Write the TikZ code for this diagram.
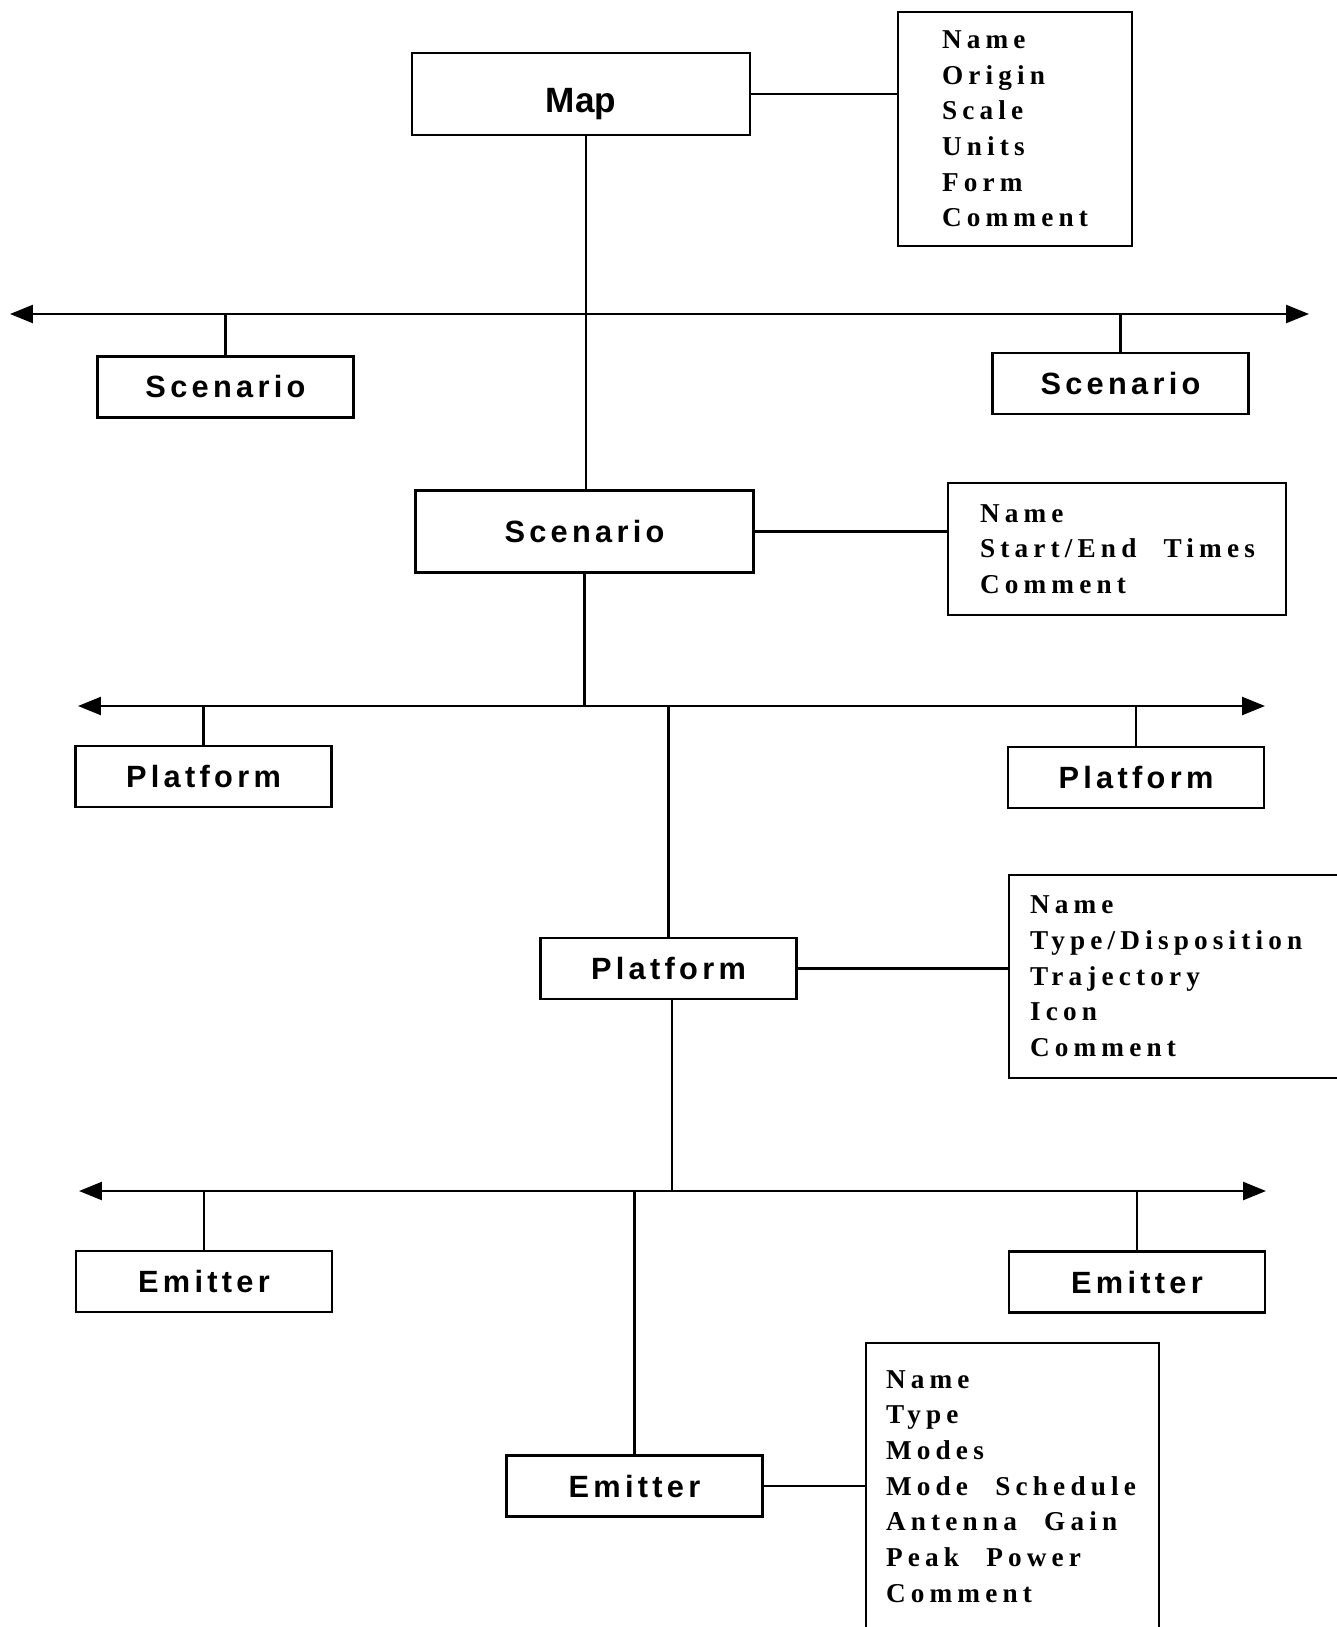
\documentclass[tikz,border=0pt]{standalone}
\usepackage{fontspec}
\newfontfamily\lblfont{Liberation Sans}[LetterSpace=14]
\newfontfamily\mapfont{Liberation Sans}
\newfontfamily\attfont{Liberation Serif}[LetterSpace=19]
\newcommand{\wgap}{\hspace{1em}}
\usetikzlibrary{arrows.meta, calc}

\begin{document}
\begin{tikzpicture}[
    x=0.02cm, y=-0.02cm,
    >={Triangle[length=0.46cm, width=0.36cm]},
    box/.style={
        draw=black,
        line width=0.05cm,
        minimum width=5.12cm,
        minimum height=1.22cm,
        inner sep=0pt,
        font=\lblfont\bfseries\fontsize{17.5}{21}\selectfont,
    },
    bigbox/.style={
        box,
        minimum width=6.76cm,
        minimum height=1.64cm,
    },
    attr/.style={
        draw=black,
        line width=0.05cm,
        align=left,
        inner ysep=0pt,
        font=\attfont\bfseries\fontsize{15.5}{20.3}\selectfont,
    },
    bus/.style={<->, line width=0.05cm},
    plain/.style={line width=0.05cm},
]

% -- Page frame
\useasboundingbox (0,0) rectangle (1337,1627);

% -- Map level
\node[bigbox, text height=25pt, text depth=4pt, font=\mapfont\bfseries\fontsize{20}{22}\selectfont] (map) at (581, 94) {Map};
\node[attr, minimum width=4.68cm, minimum height=4.68cm, text width=2.92cm, inner xsep=0.88cm] (mapattr) at (1015, 129) {%
    Name\\Origin\\Scale\\Units\\Form\\Comment};

% -- Scenario bus
\coordinate (busAl) at (10, 314);
\coordinate (busAr) at (1309, 314);
\node[box] (scenl) at (225.5, 387) {Scenario};
\node[box] (scenr) at (1120.5, 383.5) {Scenario};

% -- Scenario level
\node[bigbox] (scen) at (584.5, 531.5) {Scenario};
\node[attr, minimum width=6.76cm, minimum height=2.64cm, text width=5.48cm, inner xsep=0.64cm] (scenattr) at (1117, 549) {%
    Name\\\mbox{Start/End\wgap Times}\\Comment};

% -- Platform bus
\coordinate (busBl) at (78, 706);
\coordinate (busBr) at (1265, 706);
\node[box] (platl) at (203.5, 776.5) {Platform};
\node[box] (platr) at (1136, 777.5) {Platform};

% -- Platform level
\node[box] (plat) at (668.5, 968.5) {Platform};
\node[attr, minimum width=6.82cm, minimum height=4.06cm, text width=5.98cm, inner xsep=0.42cm] (platattr) at (1179.5, 976.5) {%
    Name\\Type/Disposition\\Trajectory\\Icon\\Comment};

% -- Emitter bus
\coordinate (busCl) at (79, 1191);
\coordinate (busCr) at (1266, 1191);
\node[box] (emitl) at (204, 1281.5) {Emitter};
\node[box] (emitr) at (1137, 1282) {Emitter};

% -- Emitter level
\node[box] (emit) at (634.5, 1486) {Emitter};
\node[attr, minimum width=5.86cm, minimum height=5.74cm, text width=5.06cm, inner xsep=0.4cm] (emitattr) at (1012.5, 1486.5) {%
    Name\\Type\\Modes\\Mode\wgap Schedule\\Antenna\wgap Gain\\Peak\wgap Power\\Comment};

% ===== Connectors =====

% map -> attributes, map down to scenario
\draw[plain] (map.east) -- (map.east -| mapattr.west);
\draw[plain] ([xshift=0.1cm]map.south) -- ([xshift=0.1cm]map.south |- scen.north);

% scenario bus
\draw[bus] (busAl) -- (busAr);
\draw[plain] (scenl.north) -- (scenl.north |- busAl);
\draw[plain] (scenr.north) -- (scenr.north |- busAr);

% scenario -> attributes, scenario down to platform bus
\draw[plain] (scen.east) -- (scen.east -| scenattr.west);
\draw[plain] (scen.south) -- (scen.south |- busBl);

% platform bus
\draw[bus] (busBl) -- (busBr);
\draw[plain] (platl.north) -- (platl.north |- busBl);
\draw[plain] (platr.north) -- (platr.north |- busBr);
\draw[plain] (plat.north) -- (plat.north |- busBl);

% platform -> attributes, platform down to emitter bus
\draw[plain] (plat.east) -- (plat.east -| platattr.west);
\draw[plain] ([xshift=0.07cm]plat.south) -- ([xshift=0.07cm]plat.south |- busCl);

% emitter bus
\draw[bus] (busCl) -- (busCr);
\draw[plain] (emitl.north) -- (emitl.north |- busCl);
\draw[plain] (emitr.north) -- (emitr.north |- busCr);
\draw[plain] (emit.north) -- (emit.north |- busCl);

% emitter -> attributes
\draw[plain] (emit.east) -- (emit.east -| emitattr.west);

\end{tikzpicture}
\end{document}
